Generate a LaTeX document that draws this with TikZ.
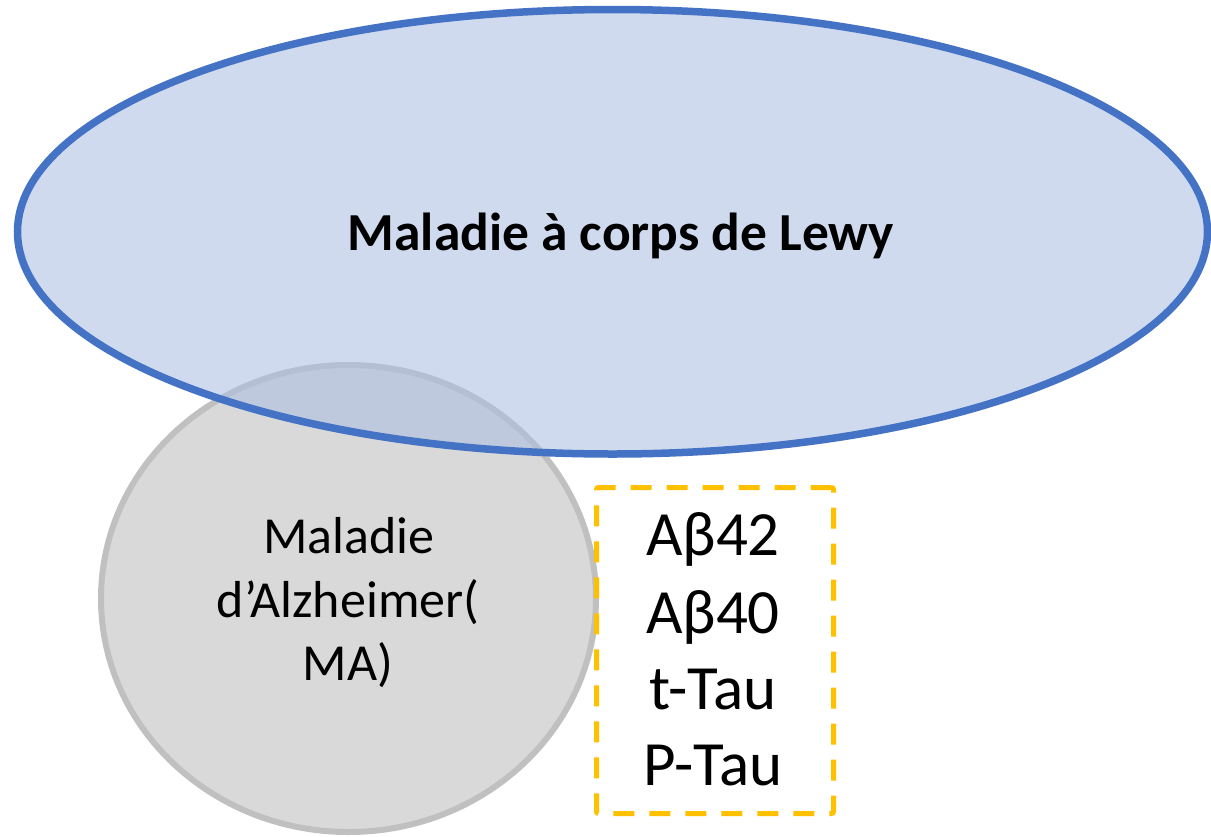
\documentclass[tikz,border=0pt]{standalone}
\usepackage{fontspec}
\setmainfont{Carlito}
\usetikzlibrary{shapes.geometric}
\definecolor{lewyfill}{RGB}{172,191,227}
\definecolor{lewyline}{RGB}{68,114,196}
\definecolor{adfill}{RGB}{217,217,217}
\definecolor{adline}{RGB}{192,192,192}
\definecolor{gold}{RGB}{255,192,0}
\tikzset{
  lewyshape/.style={ellipse, draw=lewyline, line width=7.5pt, fill=lewyfill, fill opacity=0.58, draw opacity=1, inner sep=0pt},
  adshape/.style={ellipse, draw=adline, line width=6pt, fill=adfill, inner sep=0pt},
  markerbox/.style={rectangle, draw=gold, line width=5pt, dash pattern=on 21pt off 15pt, rounded corners=2pt, inner sep=0pt},
  lewytext/.style={font=\fontsize{53.5}{64}\selectfont\bfseries, inner sep=0pt, anchor=base},
  adtext/.style={font=\fontsize{52}{64}\selectfont, inner sep=0pt, anchor=base},
  mktext/.style={font=\fontsize{63}{77}\selectfont, inner sep=0pt, anchor=base}
}
\begin{document}
\begin{tikzpicture}[x=1pt,y=-1pt]
\useasboundingbox (0,0) rectangle (1211,836);
\node[adshape, minimum width=495pt, minimum height=467pt] (ad) at (348.5,598.5) {};
\node[lewyshape, minimum width=1190pt, minimum height=444.5pt] (lewy) at (612.5,231.75) {};
\node[lewytext] (lewylabel) at (621,250) {Maladie à corps de Lewy};
\node[adtext] (ad1) at (349,553) {Maladie};
\node[adtext] (ad2) at (348,617) {d’Alzheimer(};
\node[adtext] (ad3) at (348,680) {MA)};
\node[markerbox, minimum width=237pt, minimum height=326pt] (box) at (715,650.5) {};
\node[mktext] (m1) at (713,555) {Aβ42};
\node[mktext] (m2) at (713,633) {Aβ40};
\node[mktext] (m3) at (713,709) {t-Tau};
\node[mktext] (m4) at (713,785) {P-Tau};
\end{tikzpicture}
\end{document}
